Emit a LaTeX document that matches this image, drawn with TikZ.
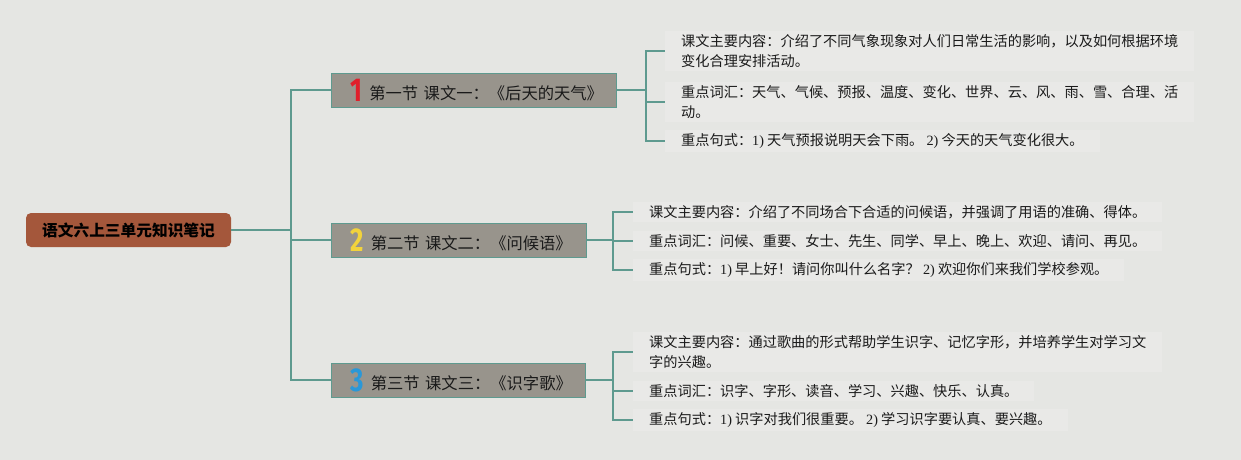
\documentclass[tikz,border=0pt]{standalone}
\usepackage{fontspec}
\usepackage{graphicx}
\setmainfont{Noto Sans CJK SC}
\newfontfamily\lserif{Liberation Serif}
\newfontfamily\digitfont{Fira Sans}
\newcommand\lt[1]{{\lserif #1}}
\definecolor{bgc}{HTML}{E5E6E3}
\definecolor{leafc}{HTML}{E9E9E7}
\definecolor{linec}{HTML}{5E9A8F}
\definecolor{rootc}{HTML}{A4573B}
\definecolor{boxc}{HTML}{98948C}
\definecolor{txtc}{HTML}{1A1A1A}
\definecolor{numa}{HTML}{E01F2B}
\definecolor{numb}{HTML}{F2D33C}
\definecolor{numc}{HTML}{2A98D8}
\newcommand\bignum[2]{\textcolor{#1}{\raisebox{-0.12em}{\scalebox{0.78}[1]{\digitfont\bfseries\fontsize{33}{33}\selectfont #2}}}\hspace{7pt}}
\tikzset{
  conn/.style={draw=linec, line width=1.8pt},
  rootbox/.style={fill=rootc, rounded corners=5pt, minimum width=205pt, minimum height=34pt,
    inner sep=0pt, font=\bfseries\fontsize{15.7}{18}\selectfont, text=black},
  secbox/.style={fill=boxc, draw=linec, line width=0.9pt, minimum height=34pt, inner xsep=19pt,
    inner ysep=0pt, align=left, font=\fontsize{16.3}{18}\selectfont, text=txtc, anchor=west},
  leaf/.style={fill=leafc, inner xsep=16pt, inner ysep=3pt, align=left, anchor=west,
    font=\fontsize{14.2}{20}\selectfont, text=txtc}
}
\begin{document}
\begin{tikzpicture}[x=1pt,y=-1pt]
\fill[bgc] (0,0) rectangle (1241,460);
\useasboundingbox (0,0) rectangle (1241,460);

\node[rootbox] (root) at (128.5,230) {语文六上三单元知识笔记};

\node[secbox, text width=247pt] (s1) at (331,90) {\mbox{\bignum{numa}{1}第一节 课文一：《后天的天气》}};
\node[secbox, text width=217pt] (s2) at (331,240) {\mbox{\bignum{numb}{2}第二节 课文二：《问候语》}};
\node[secbox, text width=216pt] (s3) at (331,380) {\mbox{\bignum{numc}{3}第三节 课文三：《识字歌》}};

\coordinate (j0) at (291,230);
\draw[conn] (root.east) -- (j0);
\draw[conn] (j0) |- (s1.west);
\draw[conn] (j0) |- (s2.west);
\draw[conn] (j0) |- (s3.west);

% Section 1 leaves
\node[leaf] (l11) at (665,51) {课文主要内容：介绍了不同气象现象对人们日常生活的影响，以及如何根据环境\\变化合理安排活动。};
\node[leaf] (l12) at (665,102) {重点词汇：天气、气候、预报、温度、变化、世界、云、风、雨、雪、合理、活\\动。};
\node[leaf] (l13) at (665,141) {重点句式：\lt{1)} 天气预报说明天会下雨。 \lt{2)} 今天的天气变化很大。};
\coordinate (j1) at (646,90);
\draw[conn] (s1.east) -- (j1);
\draw[conn] (j1) |- (l11.west);
\draw[conn] (j1) |- (l12.west);
\draw[conn] (j1) |- (l13.west);

% Section 2 leaves
\node[leaf] (l21) at (633,212) {课文主要内容：介绍了不同场合下合适的问候语，并强调了用语的准确、得体。};
\node[leaf] (l22) at (633,241) {重点词汇：问候、重要、女士、先生、同学、早上、晚上、欢迎、请问、再见。};
\node[leaf] (l23) at (633,270) {重点句式：\lt{1)} 早上好！请问你叫什么名字？ \lt{2)} 欢迎你们来我们学校参观。};
\coordinate (j2) at (613,240);
\draw[conn] (s2.east) -- (j2);
\draw[conn] (j2) |- (l21.west);
\draw[conn] (j2) |- (l22.west);
\draw[conn] (j2) |- (l23.west);

% Section 3 leaves
\node[leaf] (l31) at (633,352) {课文主要内容：通过歌曲的形式帮助学生识字、记忆字形，并培养学生对学习文\\字的兴趣。};
\node[leaf] (l32) at (633,391) {重点词汇：识字、字形、读音、学习、兴趣、快乐、认真。};
\node[leaf] (l33) at (633,420) {重点句式：\lt{1)} 识字对我们很重要。 \lt{2)} 学习识字要认真、要兴趣。};
\coordinate (j3) at (613,380);
\draw[conn] (s3.east) -- (j3);
\draw[conn] (j3) |- (l31.west);
\draw[conn] (j3) |- (l32.west);
\draw[conn] (j3) |- (l33.west);
\end{tikzpicture}
\end{document}
